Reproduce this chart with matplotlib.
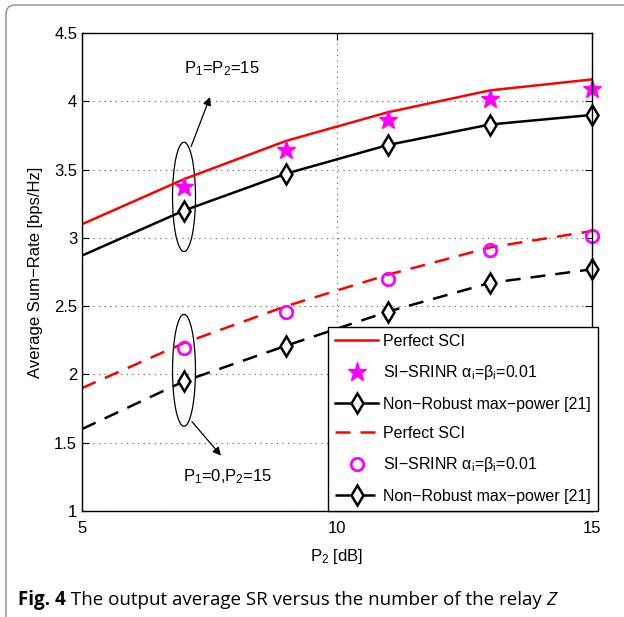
import matplotlib
matplotlib.use("Agg")
import matplotlib.pyplot as plt
from matplotlib.patches import Ellipse, FancyBboxPatch

plt.rcParams['font.family'] = ['Liberation Sans', 'DejaVu Sans']
plt.rcParams['mathtext.fontset'] = 'custom'
plt.rcParams['mathtext.rm'] = 'Liberation Sans'
plt.rcParams['mathtext.it'] = 'Liberation Sans:italic'

# data
p2_line = [5, 7, 9, 11, 13, 15]
p2_mark = [7, 9, 11, 13, 15]

perfect_a = [3.10, 3.43, 3.71, 3.92, 4.08, 4.16]
srinr_a = [3.37, 3.64, 3.86, 4.02, 4.09]
nonrob_a = [2.87, 3.20, 3.47, 3.68, 3.83, 3.90]

perfect_b = [1.90, 2.23, 2.50, 2.73, 2.93, 3.05]
srinr_b = [2.19, 2.46, 2.70, 2.91, 3.01]
nonrob_b = [1.60, 1.95, 2.21, 2.46, 2.67, 2.77]

xticks = [5, 10, 15]
yticks = [1, 1.5, 2, 2.5, 3, 3.5, 4, 4.5]

fig = plt.figure(figsize=(6.24, 6.17), dpi=100)
W, H = 624, 617
ax = fig.add_axes([82 / W, 1 - 511 / H, 510 / W, 478 / H])

# rounded frame round the figure
frame = FancyBboxPatch((6 / W, -0.2), 1.2, 1.2 - 5 / H,
                       boxstyle="round,pad=0,rounding_size=0.015",
                       transform=fig.transFigure, fill=False,
                       edgecolor='#8a8a8a', linewidth=1.0)
fig.patches.append(frame)

sci_label = r'SI$-$SRINR $\mathrm{\alpha_i}$=$\mathrm{\beta_i}$=0.01'
sci_label = 'SI\u2212SRINR \u03b1$_\\mathrm{i}$=\u03b2$_\\mathrm{i}$=0.01'
nr_label = 'Non\u2212Robust max\u2212power [21]'

ax.plot(p2_line, perfect_a, '-', color='red', lw=1.8, label='Perfect SCI')
ax.plot(p2_mark, srinr_a, '*', color='magenta', ms=14, ls='none', clip_on=False,
        label=sci_label)
ax.plot(p2_line, nonrob_a, '-', color='black', lw=1.8)
ax.plot(p2_mark, nonrob_a[1:], 'd', mfc='white', mec='black', mew=1.8, ms=10, ls='none',
        clip_on=False)
ax.plot([], [], '-d', color='black', lw=1.8, mfc='white', mec='black', mew=1.8, ms=10,
        label=nr_label)

ax.plot(p2_line, perfect_b, '--', color='red', lw=1.8, dashes=(6, 4), label='Perfect SCI')
ax.plot(p2_mark, srinr_b, 'o', mfc='none', mec='magenta', mew=2, ms=9, ls='none',
        clip_on=False, label=sci_label)
ax.plot(p2_line, nonrob_b, '--', color='black', lw=1.8, dashes=(6, 4))
ax.plot(p2_mark, nonrob_b[1:], 'd', mfc='white', mec='black', mew=1.8, ms=10, ls='none',
        clip_on=False)
ax.plot([], [], '--d', color='black', lw=1.8, dashes=(6, 4), mfc='white', mec='black',
        mew=1.8, ms=10, label=nr_label)

ax.set_xlim(5, 15)
ax.set_ylim(1, 4.5)
ax.set_xticks(xticks)
ax.set_yticks(yticks)
ax.set_yticklabels(['1', '1.5', '2', '2.5', '3', '3.5', '4', '4.5'])
ax.tick_params(direction='in', top=True, right=True, labelsize=12, length=5)
ax.tick_params(axis='x', pad=7)
ax.grid(True, linestyle=(0, (1, 4)), color='#555555', linewidth=0.8)
for s in ax.spines.values():
    s.set_linewidth(1.0)

ax.set_xlabel(r'P$_2$ [dB]', fontsize=12, labelpad=8)
ax.set_ylabel('Average Sum\u2212Rate [bps/Hz]', fontsize=12, labelpad=8)

# ellipses and arrows
ax.add_patch(Ellipse((7, 3.30), 0.45, 0.80, fill=False, edgecolor='black', lw=0.9))
ax.add_patch(Ellipse((7, 2.03), 0.45, 0.82, fill=False, edgecolor='black', lw=0.9))
ax.annotate('', xy=(7.53, 4.05), xytext=(7.12, 3.65),
            arrowprops=dict(arrowstyle='-|>', color='black', lw=0.9, mutation_scale=12))
ax.annotate('', xy=(7.76, 1.39), xytext=(7.12, 1.67),
            arrowprops=dict(arrowstyle='-|>', color='black', lw=0.9, mutation_scale=12))
ax.text(7.75, 4.24, r'P$_1$=P$_2$=15', fontsize=12, ha='center', va='center')
ax.text(7.86, 1.25, r'P$_1$=0,P$_2$=15', fontsize=12, ha='center', va='center')

leg = ax.legend(loc='lower right', bbox_to_anchor=(1.012, 0.0), fontsize=11.5,
                frameon=True, fancybox=False, edgecolor='black', framealpha=1,
                borderaxespad=0, handlelength=2.7, labelspacing=0.9,
                handletextpad=0.3, borderpad=0.45)
leg.get_frame().set_linewidth(1.0)

# caption
cap1 = fig.text(18 / W, 1 - 605 / H, 'Fig. 4', fontsize=13.5, fontweight='bold',
                family=['Open Sans', 'DejaVu Sans'], va='baseline')
cap2 = fig.text(0, 0, ' The output average SR versus the number of the relay ', fontsize=13.5,
                family=['Open Sans', 'DejaVu Sans'], va='baseline')
cap3 = fig.text(0, 0, 'Z', fontsize=13.5, style='italic',
                family=['Open Sans', 'DejaVu Sans'], va='baseline')
fig.canvas.draw()
r = fig.canvas.get_renderer()
b1 = cap1.get_window_extent(r)
cap2.set_position((b1.x1 / W, 1 - 605 / H))
fig.canvas.draw()
b2 = cap2.get_window_extent(r)
cap3.set_position((b2.x1 / W, 1 - 605 / H))

fig.savefig('out.png', dpi=100)
